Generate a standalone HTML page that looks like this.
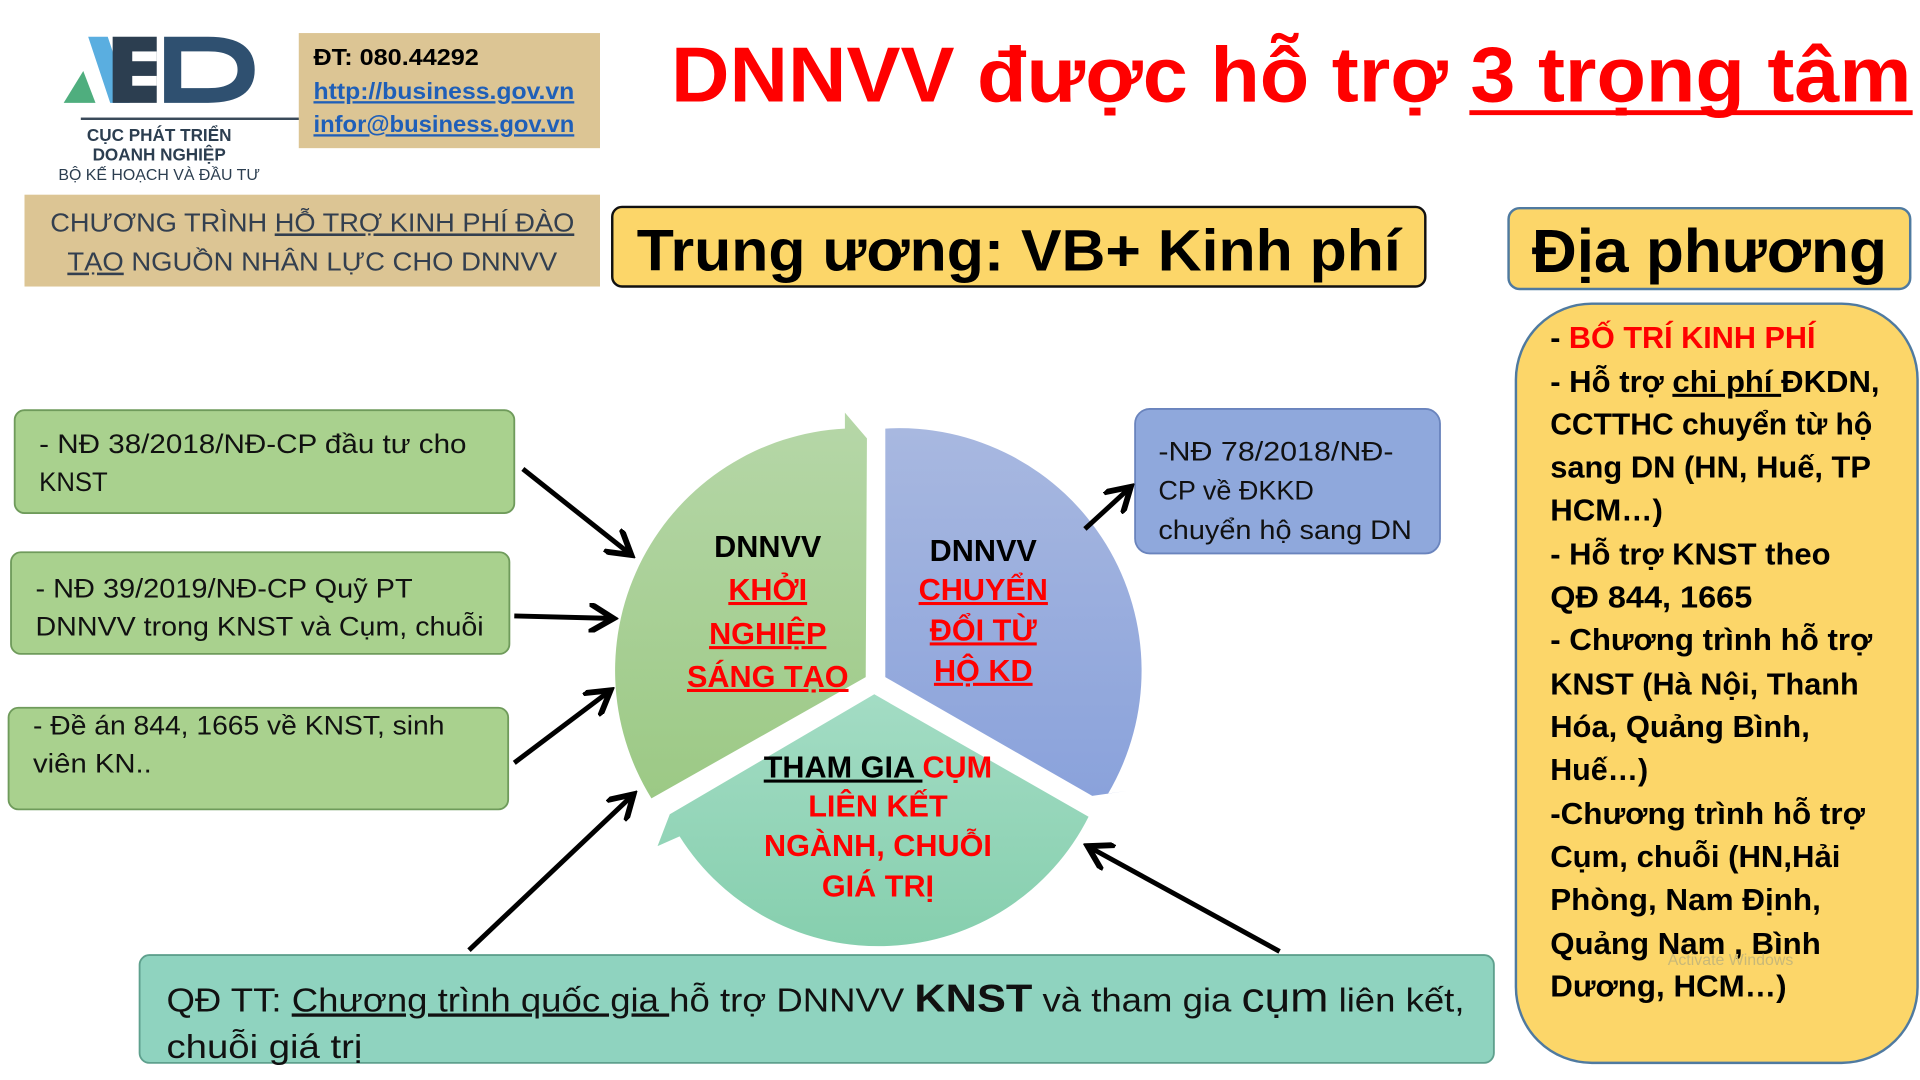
<!DOCTYPE html>
<html><head><meta charset="utf-8"><style>
html,body{margin:0;padding:0;background:#fff;width:1920px;height:1080px;overflow:hidden}
svg{display:block}
text{font-family:"Liberation Sans","DejaVu Sans",sans-serif}
</style></head><body>
<svg width="1920" height="1080" viewBox="0 0 1568 882" preserveAspectRatio="none" xmlns="http://www.w3.org/2000/svg">
<defs>
<linearGradient id="g1" x1="0" y1="0" x2="0" y2="1"><stop offset="0" stop-color="#b6d7a8"/><stop offset="1" stop-color="#9cc985"/></linearGradient>
<linearGradient id="g2" x1="0" y1="0" x2="0" y2="1"><stop offset="0" stop-color="#a8b8e0"/><stop offset="1" stop-color="#8aa2db"/></linearGradient>
<linearGradient id="g3" x1="0" y1="0" x2="0" y2="1"><stop offset="0" stop-color="#a3dcc4"/><stop offset="1" stop-color="#86cfae"/></linearGradient>
<marker id="ah" markerWidth="6" markerHeight="6" refX="4.5" refY="3" orient="auto" markerUnits="strokeWidth"><path d="M0,0 L5,3 L0,6" fill="none" stroke="#000" stroke-width="1.2"/></marker>
</defs>

<!-- logo -->
<polygon points="52,84 68,58 78,84" fill="#4fae7e"/>
<polygon points="72,30 88,30 106,84 90,84" fill="#5aaee0"/>
<rect x="92" y="30" width="36" height="54" fill="#2c3e50"/>
<rect x="108" y="42" width="20" height="8" fill="#fff"/><rect x="108" y="62" width="20" height="8" fill="#fff"/>
<path d="M134,30 L170,30 Q208,30 208,57 Q208,84 170,84 L134,84 Z M148,42 L148,72 L170,72 Q194,72 194,57 Q194,42 170,42 Z" fill="#2f5070" fill-rule="evenodd"/>
<rect x="66" y="96" width="188" height="2" fill="#3a4a5a"/>
<text x="130" y="115" font-size="14" font-weight="bold" fill="#2c3e50" text-anchor="middle">CỤC PHÁT TRIỂN</text>
<text x="130" y="131" font-size="14" font-weight="bold" fill="#2c3e50" text-anchor="middle">DOANH NGHIỆP</text>
<text x="130" y="147" font-size="13" fill="#2c3e50" text-anchor="middle">BỘ KẾ HOẠCH VÀ ĐẦU TƯ</text>

<!-- contact -->
<rect x="244" y="27" width="246" height="94" fill="#dcc594"/>
<text x="256" y="53" font-size="19" font-weight="bold" fill="#000" textLength="135" lengthAdjust="spacingAndGlyphs">ĐT: 080.44292</text>
<text x="256" y="81" font-size="19" font-weight="bold" fill="#1f5fb8" text-decoration="underline" textLength="213" lengthAdjust="spacingAndGlyphs">http://business.gov.vn</text>
<text x="256" y="108" font-size="19" font-weight="bold" fill="#1f5fb8" text-decoration="underline" textLength="213" lengthAdjust="spacingAndGlyphs">infor@business.gov.vn</text>

<!-- program box -->
<rect x="20" y="159" width="470" height="75" fill="#dcc594"/>
<text x="41" y="189" font-size="21" fill="#333f4f" textLength="428" lengthAdjust="spacingAndGlyphs">CHƯƠNG TRÌNH <tspan text-decoration="underline">HỖ TRỢ KINH PHÍ ĐÀO</tspan></text>
<text x="55" y="221" font-size="21" fill="#333f4f" textLength="400" lengthAdjust="spacingAndGlyphs"><tspan text-decoration="underline">TẠO</tspan> NGUỒN NHÂN LỰC CHO DNNVV</text>

<!-- title -->
<text x="548" y="83" font-size="64" font-weight="bold" fill="#ff0000" textLength="1013" lengthAdjust="spacingAndGlyphs">DNNVV được hỗ trợ <tspan>3 trọng tâm</tspan></text>
<rect x="1200" y="90" width="362" height="4" fill="#ff0000"/>

<!-- Trung uong -->
<rect x="500" y="169" width="664" height="65" rx="8" fill="#fcd669" stroke="#111" stroke-width="2"/>
<text x="832" y="221" font-size="48" font-weight="bold" fill="#000" text-anchor="middle" textLength="624" lengthAdjust="spacingAndGlyphs">Trung ương: VB+ Kinh phí</text>

<!-- Dia phuong -->
<rect x="1232" y="170" width="328" height="66" rx="9" fill="#fcd669" stroke="#4f7aa0" stroke-width="2"/>
<text x="1396" y="222" font-size="50" font-weight="bold" fill="#000" text-anchor="middle" textLength="290" lengthAdjust="spacingAndGlyphs">Địa phương</text>

<!-- right list -->
<rect x="1238" y="248" width="328" height="620" rx="62" fill="#fcd669" stroke="#4f7aa0" stroke-width="2"/>
<g font-size="25" font-weight="bold" fill="#000">
<text x="1266" y="284"><tspan>- </tspan><tspan fill="#ff0000">BỐ TRÍ KINH PHÍ</tspan></text>
<text x="1266" y="320" textLength="269" lengthAdjust="spacingAndGlyphs">- Hỗ trợ <tspan text-decoration="underline">chi phí </tspan>ĐKDN,</text>
<text x="1266" y="355" textLength="263" lengthAdjust="spacingAndGlyphs">CCTTHC chuyển từ hộ</text>
<text x="1266" y="390" textLength="262" lengthAdjust="spacingAndGlyphs">sang DN (HN, Huế, TP</text>
<text x="1266" y="425" textLength="92" lengthAdjust="spacingAndGlyphs">HCM…)</text>
<text x="1266" y="461" textLength="229" lengthAdjust="spacingAndGlyphs">- Hỗ trợ KNST theo</text>
<text x="1266" y="496" textLength="165" lengthAdjust="spacingAndGlyphs">QĐ 844, 1665</text>
<text x="1266" y="531" textLength="263" lengthAdjust="spacingAndGlyphs">- Chương trình hỗ trợ</text>
<text x="1266" y="567" textLength="252" lengthAdjust="spacingAndGlyphs">KNST (Hà Nội, Thanh</text>
<text x="1266" y="602" textLength="212" lengthAdjust="spacingAndGlyphs">Hóa, Quảng Bình,</text>
<text x="1266" y="637" textLength="80" lengthAdjust="spacingAndGlyphs">Huế…)</text>
<text x="1266" y="673" textLength="257" lengthAdjust="spacingAndGlyphs">-Chương trình hỗ trợ</text>
<text x="1266" y="708" textLength="237" lengthAdjust="spacingAndGlyphs">Cụm, chuỗi (HN,Hải</text>
<text x="1266" y="743" textLength="221" lengthAdjust="spacingAndGlyphs">Phòng, Nam Định,</text>
<text x="1266" y="779" textLength="221" lengthAdjust="spacingAndGlyphs">Quảng Nam , Bình</text>
<text x="1266" y="814" textLength="193" lengthAdjust="spacingAndGlyphs">Dương, HCM…)</text>
</g>
<text x="1362" y="788" font-size="13" fill="#c8b878">Activate Windows</text>

<!-- left boxes -->
<g font-size="22" fill="#111">
<rect x="12" y="335" width="408" height="84" rx="8" fill="#a9d18e" stroke="#6f9b5b" stroke-width="1.5"/>
<text x="32" y="370" textLength="349" lengthAdjust="spacingAndGlyphs">- NĐ 38/2018/NĐ-CP đầu tư cho</text>
<text x="32" y="401" textLength="56" lengthAdjust="spacingAndGlyphs">KNST</text>
<rect x="9" y="451" width="407" height="83" rx="8" fill="#a9d18e" stroke="#6f9b5b" stroke-width="1.5"/>
<text x="29" y="488" textLength="308" lengthAdjust="spacingAndGlyphs">- NĐ 39/2019/NĐ-CP Quỹ PT</text>
<text x="29" y="519" textLength="366" lengthAdjust="spacingAndGlyphs">DNNVV trong KNST và Cụm, chuỗi</text>
<rect x="7" y="578" width="408" height="83" rx="8" fill="#a9d18e" stroke="#6f9b5b" stroke-width="1.5"/>
<text x="27" y="600" textLength="336" lengthAdjust="spacingAndGlyphs">- Đề án 844, 1665 về KNST, sinh</text>
<text x="27" y="631" textLength="97" lengthAdjust="spacingAndGlyphs">viên KN..</text>
</g>

<!-- blue box -->
<rect x="927" y="334" width="249" height="118" rx="12" fill="#8fa8dc" stroke="#6a84bd" stroke-width="1.5"/>
<g font-size="22" fill="#111">
<text x="946" y="376" textLength="192" lengthAdjust="spacingAndGlyphs">-NĐ 78/2018/NĐ-</text>
<text x="946" y="408" textLength="127" lengthAdjust="spacingAndGlyphs">CP về ĐKKD</text>
<text x="946" y="440" textLength="207" lengthAdjust="spacingAndGlyphs">chuyển hộ sang DN</text>
</g>

<!-- circle segments -->
<path d="M707,553 L532,652 A198,198 0 0 1 690,350 L690,337 L708,358 Z" fill="url(#g1)"/>
<path d="M723,553 L723,350 A198,198 0 0 1 905,648 L920,646 L892,650 Z" fill="url(#g2)"/>
<path d="M714,567 L889,667 A192,192 0 0 1 555,683 L537,691 L547,665 Z" fill="url(#g3)"/>

<g font-size="25" font-weight="bold" text-anchor="middle">
<text x="627" y="455" fill="#000">DNNVV</text>
<text x="627" y="490" fill="#ff0000" text-decoration="underline">KHỞI</text>
<text x="627" y="526" fill="#ff0000" text-decoration="underline">NGHIỆP</text>
<text x="627" y="561" fill="#ff0000" text-decoration="underline">SÁNG TẠO</text>
<text x="803" y="458" fill="#000">DNNVV</text>
<text x="803" y="490" fill="#ff0000" text-decoration="underline">CHUYỂN</text>
<text x="803" y="523" fill="#ff0000" text-decoration="underline">ĐỔI TỪ</text>
<text x="803" y="556" fill="#ff0000" text-decoration="underline">HỘ KD</text>
<text x="717" y="635" fill="#000"><tspan text-decoration="underline">THAM GIA </tspan><tspan fill="#ff0000">CỤM</tspan></text>
<text x="717" y="667" fill="#ff0000">LIÊN KẾT</text>
<text x="717" y="699" fill="#ff0000">NGÀNH, CHUỖI</text>
<text x="717" y="732" fill="#ff0000">GIÁ TRỊ</text>
</g>

<!-- bottom box -->
<rect x="114" y="780" width="1106" height="88" rx="8" fill="#8fd3bf" stroke="#5ea08d" stroke-width="1.5"/>
<text x="136" y="826" font-size="27" fill="#111" textLength="1060" lengthAdjust="spacingAndGlyphs">QĐ TT: <tspan text-decoration="underline">Chương trình quốc gia </tspan>hỗ trợ DNNVV <tspan font-size="32" font-weight="bold">KNST</tspan> và tham gia <tspan font-size="34">cụm</tspan> liên kết,</text>
<text x="136" y="864" font-size="27" fill="#111" textLength="160" lengthAdjust="spacingAndGlyphs">chuỗi giá trị</text>

<!-- arrows -->
<g stroke="#000" stroke-width="4" fill="none" marker-end="url(#ah)">
<line x1="427" y1="383" x2="514" y2="452"/>
<line x1="420" y1="503" x2="499" y2="505"/>
<line x1="420" y1="623" x2="497" y2="565"/>
<line x1="383" y1="776" x2="516" y2="650"/>
<line x1="1045" y1="777" x2="890" y2="692"/>
<line x1="886" y1="432" x2="922" y2="399"/>
</g>
</svg>
</body></html>
